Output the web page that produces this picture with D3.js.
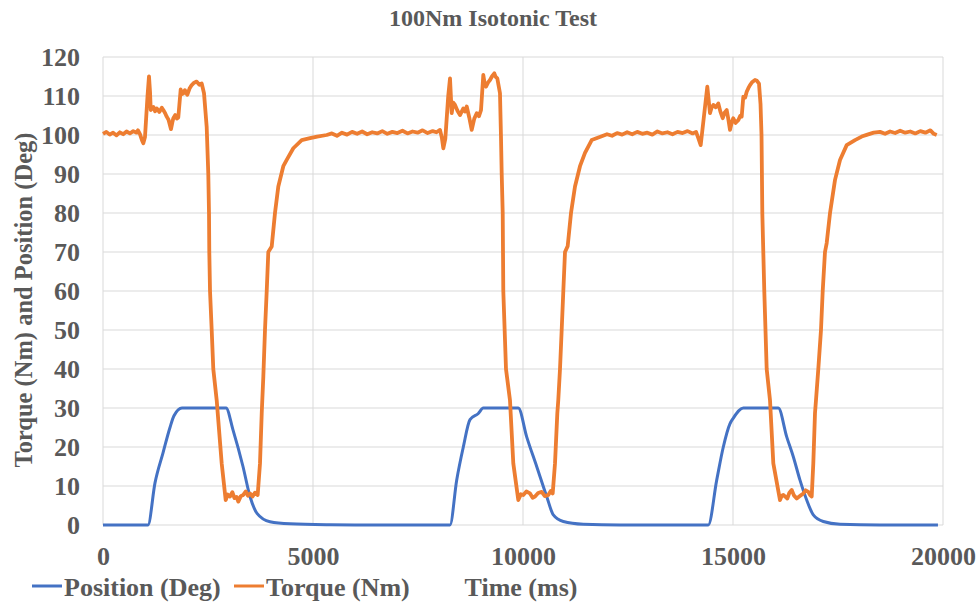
<!DOCTYPE html>
<html>
<head>
<meta charset="utf-8">
<script src="https://cdn.jsdelivr.net/npm/d3@7"></script>
<style>
  body { margin: 0; background: #fff; }
  text { font-family: "Liberation Serif", "Times New Roman", serif; font-weight: bold; fill: #595959; }
</style>
</head>
<body>
<div id="chart"></div>
<script>
// time (ms), value
var positionData = [
    [0, 0], [1071, 0], [1238, 10.8], [1429, 18.5], [1595, 25], [1690, 28], [1881, 30], [2929, 30],
    [3095, 24.4], [3333, 15], [3500, 7.3], [3667, 3], [3976, 0.85], [4452, 0.3], [5405, 0.05], [6000, 0],
    [8262, 0], [8421, 11.5], [8579, 20], [8738, 27], [8936, 28.6], [9055, 30], [9888, 30],
    [10088, 22.6], [10326, 15], [10564, 7.3], [10722, 2.6], [10960, 0.9], [11436, 0.2], [12310, 0],
    [14412, 0], [14612, 11.5], [14769, 20], [14929, 26], [15007, 27.4], [15245, 30], [16079, 30],
    [16279, 22.6], [16436, 17.5], [16595, 11.5], [16755, 6.4], [16912, 2.6], [17150, 0.9], [17548, 0.2],
    [18500, 0], [19880, 0]
];

var torqueData = [
    [0, 100.3], [80, 100.8], [160, 100.1], [240, 100.6], [320, 99.9], [400, 100.7], [480, 100.2], [560, 100.9],
    [640, 100.4], [720, 101.0], [800, 100.6], [833, 101.2], [880, 100.2], [930, 98.6], [960, 97.9], [1000, 99.5],
    [1060, 110], [1095, 115], [1120, 111], [1136, 106.4], [1200, 107.2], [1240, 106.1], [1279, 106.8], [1340, 105.9],
    [1400, 107.0], [1436, 106.4], [1480, 105.6], [1517, 104.7], [1560, 103.9], [1619, 101.5], [1650, 103.2], [1674, 104.3],
    [1720, 105.1], [1760, 104.2], [1793, 104.5], [1850, 111.7], [1880, 110.5], [1912, 110.7], [1950, 111.5], [2007, 110.3],
    [2060, 111.9], [2112, 112.8], [2170, 113.4], [2231, 113.7], [2290, 112.9], [2350, 113.2], [2405, 110.7], [2469, 102],
    [2507, 90], [2524, 80], [2531, 70], [2548, 60], [2588, 50], [2626, 40], [2707, 32], [2826, 15.8],
    [2921, 6.4], [2970, 7.8], [3024, 7.3], [3080, 8.4], [3130, 6.9], [3180, 7.2], [3221, 6.0], [3280, 7.4],
    [3340, 7.7], [3400, 8.6], [3450, 7.5], [3500, 8.1], [3560, 7.3], [3620, 8.3], [3683, 7.7], [3738, 15.8],
    [3779, 28.6], [3817, 38], [3857, 50], [3898, 60], [3936, 70], [4017, 71.4], [4095, 80], [4174, 86.8],
    [4293, 92], [4374, 93.6], [4531, 96.6], [4731, 98.7], [4929, 99.2], [5100, 99.6], [5326, 100],
    [5450, 100.4], [5570, 99.8], [5690, 100.6], [5810, 100.1], [5930, 100.8], [6050, 100.3], [6170, 100.9], [6290, 100.2],
    [6410, 100.7], [6530, 100.4], [6650, 101.0], [6770, 100.3], [6890, 100.8], [7010, 100.5], [7130, 101.1], [7250, 100.4],
    [7370, 100.9], [7490, 100.6], [7610, 101.2], [7730, 100.5], [7850, 101.0], [7940, 100.7], [8024, 101.3], [8070, 99.2],
    [8103, 96.6], [8150, 99], [8220, 110], [8262, 114.5], [8302, 105.6], [8340, 108.3], [8381, 107.7], [8440, 106.2],
    [8500, 105.1], [8540, 106.0], [8579, 106.8], [8620, 106.0], [8660, 107.3], [8720, 104.5], [8779, 101.3], [8840, 104.2],
    [8898, 105.6], [8950, 104.8], [9000, 106.4], [9055, 115.4], [9090, 113.0], [9119, 112.4], [9170, 113.5], [9214, 114.1],
    [9260, 115.0], [9317, 115.8], [9350, 114.9], [9388, 114.5], [9452, 110.7], [9475, 100], [9493, 90], [9517, 80],
    [9531, 60], [9595, 40], [9690, 32], [9769, 15.8], [9888, 6.4], [9950, 7.9], [10007, 7.7], [10080, 8.6],
    [10167, 8.1], [10230, 7.0], [10286, 7.3], [10360, 8.2], [10445, 8.5], [10520, 7.4], [10602, 7.7], [10660, 8.7],
    [10707, 8.1], [10762, 15.8], [10817, 28.6], [10840, 32], [10881, 40], [10921, 50], [10960, 60], [11000, 70],
    [11064, 71.5], [11143, 80], [11238, 86.8], [11357, 92], [11476, 95.4], [11636, 98.7], [11874, 99.7], [12000, 100.2],
    [12120, 99.8], [12240, 100.5], [12360, 100.1], [12480, 100.7], [12600, 100.2], [12720, 100.8], [12840, 100.3], [12960, 100.6],
    [13080, 100.1], [13200, 100.9], [13320, 100.4], [13440, 100.7], [13560, 100.2], [13680, 100.8], [13800, 100.5], [13920, 101.0],
    [14040, 100.4], [14120, 100.8], [14174, 99.2], [14231, 97.4], [14300, 104], [14388, 112.4], [14452, 105.6], [14490, 107.0],
    [14531, 107.7], [14590, 107.1], [14650, 108.1], [14700, 106.0], [14755, 104.3], [14800, 105.7], [14850, 106.4], [14890, 104.0],
    [14929, 101.3], [14970, 103.2], [15007, 104.3], [15060, 103.1], [15126, 103.8], [15170, 104.9], [15207, 104.7], [15245, 109.8],
    [15290, 109.6], [15326, 111.1], [15365, 112.0], [15405, 112.8], [15460, 113.6], [15524, 114.1], [15570, 113.9], [15619, 113.2],
    [15655, 108], [15679, 100], [15698, 80], [15745, 60], [15802, 40], [15881, 32], [15960, 15.8], [16119, 6.4],
    [16160, 7.5], [16198, 7.7], [16250, 7.2], [16293, 6.8], [16340, 8.2], [16398, 9], [16450, 7.6], [16517, 6.8],
    [16600, 7.5], [16674, 8.1], [16730, 8.9], [16793, 8.5], [16840, 7.6], [16874, 7.3], [16912, 15.8], [16952, 28.6],
    [16976, 32], [17031, 40], [17095, 50], [17136, 60], [17190, 70], [17231, 72.3], [17310, 80], [17429, 88.5],
    [17548, 93.6], [17707, 97.4], [17905, 98.7], [18064, 99.6], [18200, 100.1], [18350, 100.6], [18500, 100.8], [18620, 100.3],
    [18740, 100.9], [18860, 100.5], [18980, 101.1], [19100, 100.6], [19220, 100.9], [19340, 100.4], [19460, 101.0], [19580, 100.6],
    [19700, 101.2], [19780, 100.3], [19850, 100.0]
];

var xTicks = [0, 5000, 10000, 15000, 20000];
var yTicks = [0, 10, 20, 30, 40, 50, 60, 70, 80, 90, 100, 110, 120];
var seriesNames = ["Position (Deg)", "Torque (Nm)"];
var seriesColors = ["#4472C4", "#ED7D31"];

var width = 980, height = 603;
var margin = { top: 57, right: 37, bottom: 78, left: 103 };

var svg = d3.select("#chart")
    .append("svg")
    .attr("width", width)
    .attr("height", height);

var x = d3.scaleLinear()
    .domain([0, 20000])
    .range([margin.left, width - margin.right]);
var y = d3.scaleLinear()
    .domain([0, 120])
    .range([height - margin.bottom, margin.top]);

// gridlines
svg.append("g")
    .selectAll("line.h")
    .data(yTicks)
    .enter()
    .append("line")
    .attr("x1", x(0)).attr("x2", x(20000))
    .attr("y1", d => y(d)).attr("y2", d => y(d))
    .attr("stroke", "#d9d9d9")
    .attr("stroke-width", 1);

svg.append("g")
    .selectAll("line.v")
    .data(xTicks)
    .enter()
    .append("line")
    .attr("x1", d => x(d)).attr("x2", d => x(d))
    .attr("y1", y(0)).attr("y2", y(120))
    .attr("stroke", "#d9d9d9")
    .attr("stroke-width", 1);

// axes
var xAxis = svg.append("g")
    .attr("transform", "translate(0," + y(0) + ")")
    .call(d3.axisBottom(x).tickValues(xTicks).tickSize(0).tickPadding(22).tickFormat(d3.format("d")));
var yAxis = svg.append("g")
    .attr("transform", "translate(" + x(0) + ",0)")
    .call(d3.axisLeft(y).tickValues(yTicks).tickSize(0).tickPadding(23));
[xAxis, yAxis].forEach(function (a) {
    a.select(".domain").remove();
    a.selectAll("text")
        .attr("fill", "#595959")
        .style("font-family", '"Liberation Serif", "Times New Roman", serif')
        .style("font-weight", "bold")
        .style("font-size", "26px");
});

// lines
var line = d3.line()
    .x(d => x(d[0]))
    .y(d => y(d[1]));

svg.append("path")
    .datum(positionData)
    .attr("fill", "none")
    .attr("stroke", seriesColors[0])
    .attr("stroke-width", 3)
    .attr("stroke-linejoin", "round")
    .attr("d", line.curve(d3.curveMonotoneX));

svg.append("path")
    .datum(torqueData)
    .attr("fill", "none")
    .attr("stroke", seriesColors[1])
    .attr("stroke-width", 3.8)
    .attr("stroke-linejoin", "round")
    .attr("d", line.curve(d3.curveLinear));

// title
svg.append("text")
    .attr("x", 493)
    .attr("y", 26)
    .attr("text-anchor", "middle")
    .style("font-size", "24px")
    .text("100Nm Isotonic Test");

// y axis title
svg.append("text")
    .attr("transform", "translate(32," + 300 + ") rotate(-90)")
    .attr("text-anchor", "middle")
    .style("font-size", "24.5px")
    .text("Torque (Nm) and Position (Deg)");

// x axis title
svg.append("text")
    .attr("x", 521)
    .attr("y", 596)
    .attr("text-anchor", "middle")
    .style("font-size", "26px")
    .text("Time (ms)");

// legend
var legendX = [32, 234];
var legend = svg.append("g")
    .selectAll("g")
    .data(seriesNames)
    .enter()
    .append("g")
    .attr("transform", (d, i) => "translate(" + legendX[i] + ",586)");
legend.append("line")
    .attr("x1", 0).attr("x2", 30)
    .attr("stroke", (d, i) => seriesColors[i])
    .attr("stroke-width", 3);
legend.append("text")
    .attr("x", 32)
    .attr("y", 10)
    .style("font-size", "26px")
    .text(d => d);
</script>
</body>
</html>
